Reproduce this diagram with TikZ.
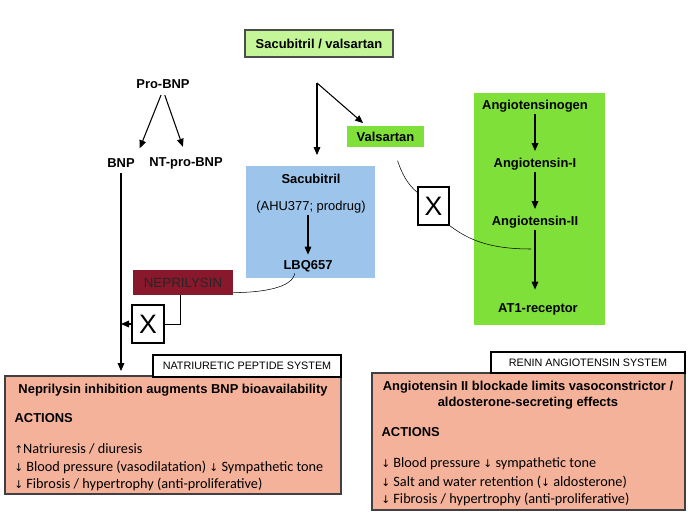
\documentclass[tikz,border=0pt]{standalone}
\usepackage{fontspec}
\setmainfont{Liberation Sans}
\newfontfamily\calfont{Carlito}
\newfontfamily\symfont{DejaVu Sans}
\usetikzlibrary{arrows.meta,calc}
\definecolor{svgreen}{RGB}{196,245,150}
\definecolor{ragreen}{RGB}{128,224,58}
\definecolor{sacblue}{RGB}{157,196,234}
\definecolor{nepred}{RGB}{137,24,44}
\definecolor{effsalmon}{RGB}{245,178,155}
\newcommand{\PX}{0.75pt}
\newcommand{\arrdn}{{\symfont\fontsize{8}{9}\selectfont ↓}}
\newcommand{\arrup}{{\symfont\fontsize{8}{9}\selectfont ↑}}
\newcommand{\lblfont}{\fontsize{9.7}{11}\selectfont}

\tikzset{
	lbl/.style={font=\lblfont\bfseries, inner sep=1pt},
	pxbox/.style n args={2}{minimum width=#1*\PX, minimum height=#2*\PX, inner sep=0pt},
	xbox/.style={draw, line width=1pt, fill=white, font=\fontsize{20}{20}\selectfont},
	effbox/.style={draw=black!75, line width=1.4pt, fill=effsalmon},
	sysbox/.style={draw, line width=1pt, fill=white, font=\fontsize{8.1}{9}\selectfont},
	bul/.style={anchor=west, font=\calfont\fontsize{10.7}{12}\selectfont, inner sep=0pt},
	conn/.style={line width=0.8pt, -{Triangle[length=6pt,width=5pt]}}
}

\begin{document}
\begin{tikzpicture}[x=0.75pt, y=-0.75pt]
	\useasboundingbox (0,0) rectangle (688,514);
	\node[pxbox={148}{27}, draw=black!70, line width=1.5pt, fill=svgreen, font=\lblfont\bfseries] (sv) at (319,43.5) {Sacubitril / valsartan};
	\node[lbl] (probnp) at (163,84) {Pro-BNP};
	\node[lbl] (bnp) at (121,163) {BNP};
	\node[lbl] (ntpro) at (186,163) {NT-pro-BNP};
	\coordinate (split) at (317,83);
	\node[pxbox={77}{21}, fill=ragreen, font=\lblfont\bfseries] (vals) at (385.5,136.5) {Valsartan};
	\node[pxbox={129}{112}, fill=sacblue] (sacbox) at (310.5,222) {};
	\node[lbl] (sac) at (311,179) {Sacubitril};
	\node[font=\lblfont, inner sep=1pt] (ahu) at (311,207) {(AHU377; prodrug)};
	\node[lbl] (lbq) at (308,266) {LBQ657};
	\node[pxbox={131}{232}, fill=ragreen] (rabox) at (539.5,209) {};
	\node[lbl] (angen) at (535,106) {Angiotensinogen};
	\node[lbl] (ang1) at (535,164) {Angiotensin-I};
	\node[lbl] (ang2) at (535,222) {Angiotensin-II};
	\node[lbl] (at1) at (538,309) {AT1-receptor};
	\coordinate (atblock) at (531,249);
	\node[pxbox={31}{38}, xbox] (xval) at (433.5,206) {X};
	\node[pxbox={100}{25}, fill=nepred, font=\fontsize{10}{11}\selectfont, text=black!85] (nep) at (183,282.5) {NEPRILYSIN};
	\node[pxbox={32}{38}, xbox] (xnep) at (148,324) {X};

	\node[pxbox={336}{118}, effbox] (npbox) at (173,435) {};
	\node[pxbox={188}{22}, sysbox] (nps) at (247,366) {NATRIURETIC PEPTIDE SYSTEM};
	\node[lbl] (nptitle) at (173,390) {Neprilysin inhibition augments BNP bioavailability};
	\node[lbl, anchor=west] (npact) at (13,418) {ACTIONS};
	\node[bul] (np1) at (14,449) {\arrup Natriuresis / diuresis};
	\node[bul] (np2) at (14,467) {\arrdn\ Blood pressure (vasodilatation) \arrdn\ Sympathetic tone};
	\node[bul] (np3) at (14,484) {\arrdn\ Fibrosis / hypertrophy (anti-proliferative)};

	\node[pxbox={313}{137}, effbox] (rasbox) at (528.5,441.5) {};
	\node[pxbox={194}{21}, sysbox] (ras) at (588,362.5) {RENIN ANGIOTENSIN SYSTEM};
	\node[lbl, align=center] (rastitle) at (528,395) {Angiotensin II blockade limits vasoconstrictor /\\[1pt] aldosterone-secreting effects};
	\node[lbl, anchor=west] (rasact) at (380,432) {ACTIONS};
	\node[bul] (ras1) at (381,464) {\arrdn\ Blood pressure \arrdn\ sympathetic tone};
	\node[bul] (ras2) at (381,482) {\arrdn\ Salt and water retention (\arrdn\ aldosterone)};
	\node[bul] (ras3) at (381,499) {\arrdn\ Fibrosis / hypertrophy (anti-proliferative)};

	\draw[conn, shorten <=4pt, shorten >=7pt] (probnp.south) -- (bnp.north east);
	\draw[conn, shorten <=4pt, shorten >=7pt] (probnp.south) -- (ntpro.north);
	\draw[conn, shorten >=8pt] (split) -- (split |- sacbox.north);
	\draw[conn, shorten >=3pt] (split) -- ($(vals.north west)!0.25!(vals.north east)$);
	\draw[conn, shorten >=3pt] (lbq.north |- ahu.south) -- (lbq.north);
	\draw[conn, shorten >=4pt] (angen.south) -- (ang1.north);
	\draw[conn, shorten >=4pt] (ang1.south) -- (ang2.north);
	\draw[conn, shorten >=9pt] (ang2.south) -- (ang2.south |- at1.north);
	\draw ([xshift=9pt,yshift=-10pt]vals.south) .. controls +(4,12) and +(-10,-8) .. (xval.140);
	\draw (xval.south east) .. controls +(20,15) and +(-40,0) .. (atblock);
	\draw ([xshift=-10pt]lbq.south) .. controls +(-2,14) and +(30,0) .. ([yshift=2pt]nep.south east);
	\draw ([xshift=-2pt]nep.south) |- (xnep.east);
	\draw[conn] (xnep.west) -- (xnep.west -| bnp.south);
	\draw[conn, shorten <=3pt, shorten >=3pt] (bnp.south) -- (bnp.south |- npbox.north);
\end{tikzpicture}
\end{document}
